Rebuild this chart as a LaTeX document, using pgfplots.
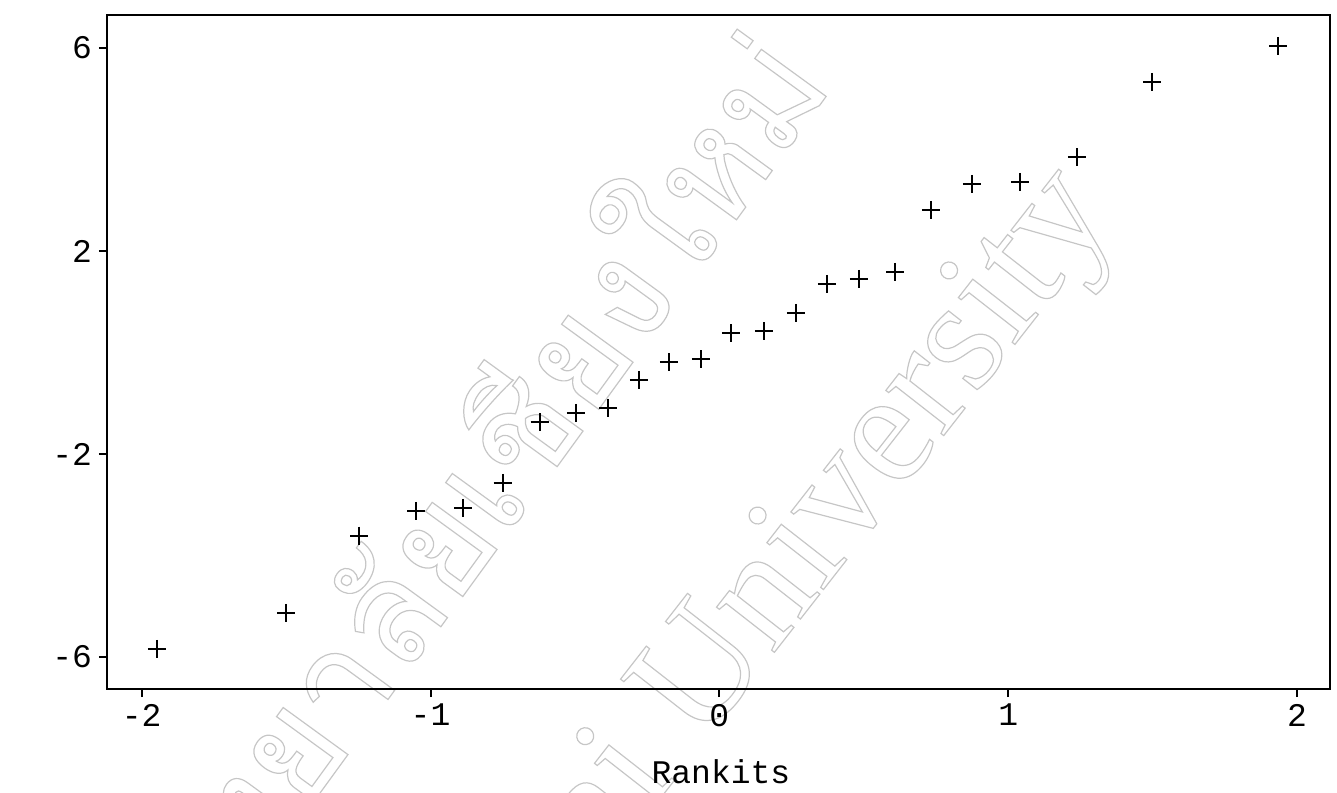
\documentclass[border=0pt]{standalone}
\usepackage{fontspec}
\setmainfont{Liberation Mono}
\newfontfamily\thaifont[Script=Thai]{Loma}
\newfontfamily\wmserif{Liberation Serif}
\usepackage{pgfplots}
\pgfplotsset{compat=1.18}
\newcommand{\outlinetext}[1]{\special{pdf:code 1 Tr 0.6 w}#1\special{pdf:code 0 Tr}}
\begin{document}
\begin{tikzpicture}
\useasboundingbox (-53.5pt,-51.5pt) rectangle (615pt,344.5pt);
% faint outlined watermark
\node[rotate=54, anchor=east, text=gray!45, font=\thaifont\fontsize{72}{80}\selectfont] at (335pt,327pt) {\outlinetext{ลิขสิทธิ์มหาวิทยาลัยเชียงใหม่}};
\node[rotate=52, anchor=east, text=gray!45, font=\wmserif\fontsize{80}{90}\selectfont] at (492pt,252pt) {\outlinetext{Copyright\textcopyright\ by Chiang Mai University}};
\begin{axis}[
  at={(0pt,0pt)}, anchor=south west,
  scale only axis, width=611.5pt, height=337pt,
  xmin=-2.12, xmax=2.114, ymin=-6.63, ymax=6.65,
  xtick={-2,-1,0,1,2}, xticklabels={-2,-1,0,1,2},
  ytick={-6,-2,2,6}, yticklabels={-6,-2,2,6},
  tick align=outside, xtick pos=bottom, ytick pos=left,
  major tick length=4pt,
  axis line style={line width=1pt},
  every tick/.style={black, line width=1pt},
  ticklabel style={font=\fontsize{16.5}{20}\selectfont},
  label style={font=\fontsize{16.5}{20}\selectfont},
  xlabel={Rankits},
  xlabel style={at={(axis description cs:0.502,-0.122)}, anchor=center},
]
\addplot[only marks, mark=+, mark size=4.5pt, line width=1pt, black] coordinates {
(-1.947,-5.84) (-1.500,-5.13) (-1.247,-3.61) (-1.050,-3.12) (-0.887,-3.06)
(-0.750,-2.57) (-0.622,-1.37) (-0.497,-1.19) (-0.386,-1.09) (-0.279,-0.54)
(-0.175,-0.19) (-0.064,-0.13) (0.040,0.38) (0.154,0.42) (0.265,0.78)
(0.372,1.35) (0.483,1.45) (0.608,1.59) (0.732,2.81) (0.874,3.32)
(1.041,3.36) (1.238,3.85) (1.498,5.33) (1.935,6.04)
};
\end{axis}
\end{tikzpicture}
\end{document}
